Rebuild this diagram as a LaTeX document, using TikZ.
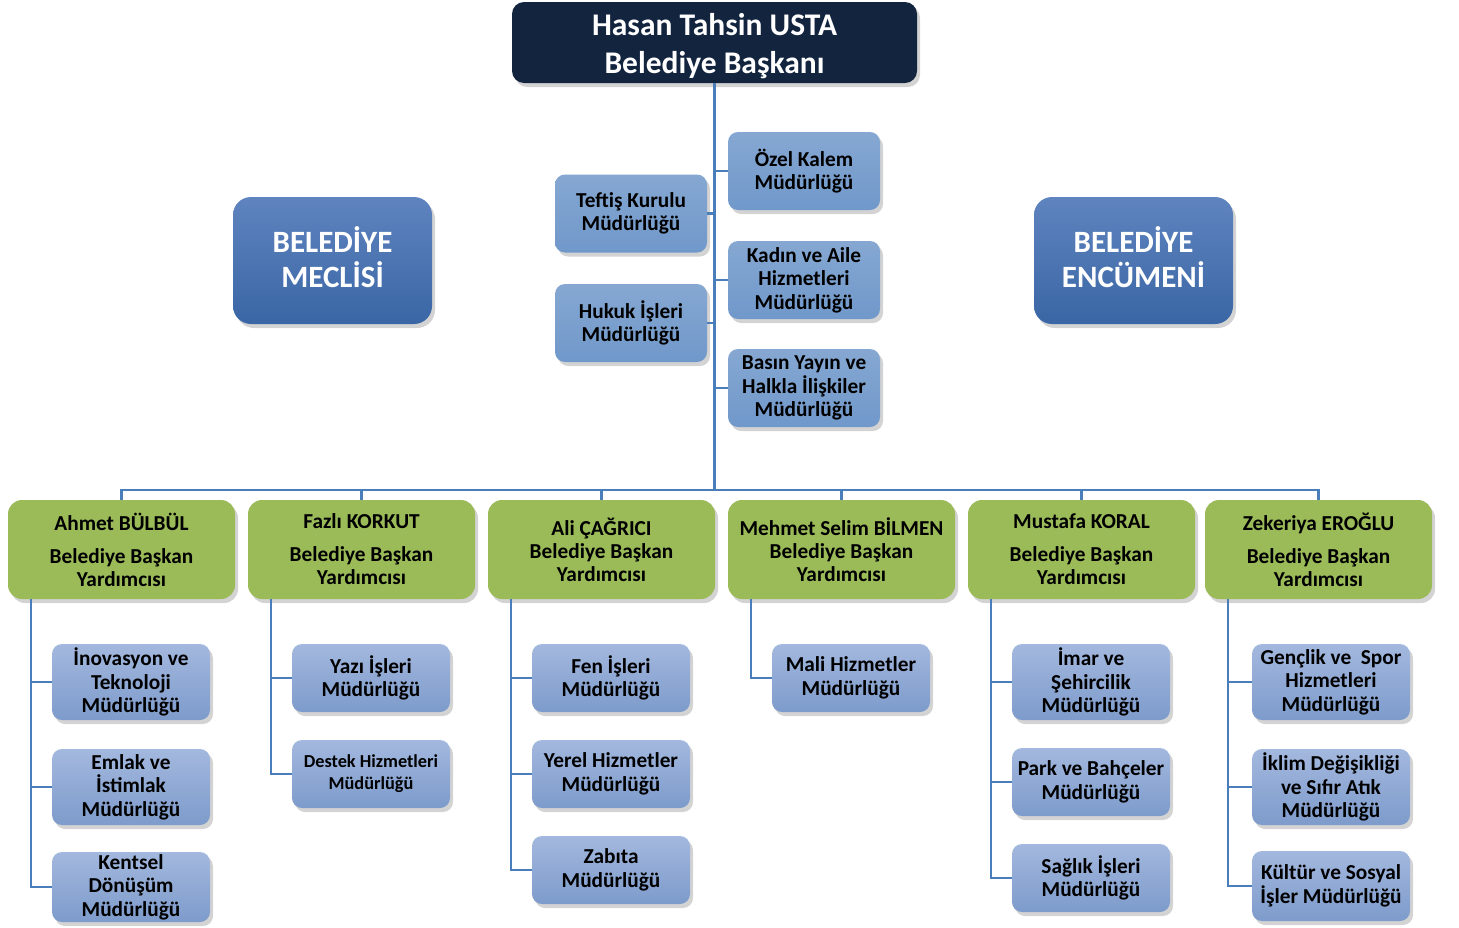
\documentclass[tikz,border=0pt]{standalone}
\usepackage{fontspec}
\setmainfont{Carlito}
\usetikzlibrary{shadows}
\definecolor{koyu}{HTML}{13243F}
\definecolor{yesil}{HTML}{9BBB59}
\definecolor{cizgi}{HTML}{4A7EBB}
\definecolor{orta}{HTML}{7098CA}
\definecolor{acikust}{HTML}{A3B8DE}
\definecolor{acikalt}{HTML}{7D9BCB}
\definecolor{meclisust}{HTML}{5F84BF}
\definecolor{meclisalt}{HTML}{3A66A5}
\tikzset{
    golge/.style = {drop shadow={opacity=0.35, shadow xshift=3pt, shadow yshift=-4pt}},
    mynodek/.style = {rectangle, rounded corners=12pt, fill=koyu, align=center, text=white, minimum width=405pt, minimum height=81pt, inner sep=0pt, golge, font=\bfseries\fontsize{31.5}{38}\selectfont},
    mynodem/.style = {rectangle, rounded corners=18pt, top color=meclisust, bottom color=meclisalt, align=center, text=white, minimum width=199pt, minimum height=127pt, inner sep=0pt, golge, font=\bfseries\fontsize{31}{35}\selectfont},
    mynodea/.style = {rectangle, rounded corners=10pt, top color=orta!85!white, bottom color=orta, align=center, text=black, minimum width=152pt, minimum height=78pt, inner sep=0pt, golge, font=\bfseries\fontsize{21.3}{23.5}\selectfont},
    mynodey/.style = {rectangle, rounded corners=14pt, fill=yesil, align=center, text=black, minimum width=227pt, minimum height=99pt, inner sep=0pt, golge, font=\bfseries\fontsize{21.3}{23}\selectfont},
    mynodeb/.style = {rectangle, rounded corners=10pt, top color=acikust, bottom color=acikalt, align=center, text=black, minimum width=158pt, minimum height=68pt, inner sep=0pt, golge, font=\bfseries\fontsize{21.3}{23.5}\selectfont},
    mynodebu/.style = {mynodeb, minimum height=76pt},
    edgeb/.style = {-, line width=2.5pt, cizgi}
}

\begin{document}
\begin{tikzpicture}[x=1pt, y=-1pt]
  \useasboundingbox (0,0) rectangle (1459,927);

  % baskan ve kurullar
  \node[mynodek] (baskan) at (714.5,42.5) {\rule{0pt}{30pt}Hasan Tahsin USTA\\Belediye Başkanı};
  \node[mynodem] (meclis) at (332.5,260.5) {BELEDİYE\\MECLİSİ\rule[-6pt]{0pt}{0pt}};
  \node[mynodem] (encumen) at (1133.5,260.5) {BELEDİYE\\ENCÜMENİ\rule[-6pt]{0pt}{0pt}};

  % baskana bagli mudurlukler
  \node[mynodea] (ozel) at (804,171) {Özel Kalem\\Müdürlüğü};
  \node[mynodea] (teftis) at (631,213.5) {Teftiş Kurulu\\Müdürlüğü};
  \node[mynodea] (kadin) at (804,280) {Kadın ve Aile\\Hizmetleri\\Müdürlüğü};
  \node[mynodea] (hukuk) at (631,323) {Hukuk İşleri\\Müdürlüğü};
  \node[mynodea] (basin) at (804,388) {Basın Yayın ve\\Halkla İlişkiler\\Müdürlüğü};

  % baskan yardimcilari
  \node[mynodey] (ahmet) at (121.5,549.5) {Ahmet BÜLBÜL\\[10pt]Belediye Başkan\\Yardımcısı};
  \node[mynodey] (fazli) at (361.5,549.5) {Fazlı KORKUT\\[10pt]Belediye Başkan\\Yardımcısı};
  \node[mynodey] (ali) at (601.5,549.5) {Ali ÇAĞRICI\\Belediye Başkan\\Yardımcısı};
  \node[mynodey] (mehmet) at (841.5,549.5) {Mehmet Selim BİLMEN\\Belediye Başkan\\Yardımcısı};
  \node[mynodey] (mustafa) at (1081.5,549.5) {Mustafa KORAL\\[10pt]Belediye Başkan\\Yardımcısı};
  \node[mynodey] (zekeriya) at (1318.5,549.5) {Zekeriya EROĞLU\\[10pt]Belediye Başkan\\Yardımcısı};

  % alt mudurlukler
  \node[mynodebu] (inovasyon) at (131,682) {İnovasyon ve\\Teknoloji\\Müdürlüğü};
  \node[mynodebu] (emlak) at (131,787) {Emlak ve\\İstimlak\\Müdürlüğü};
  \node[mynodeb, minimum height=70pt] (kentsel) at (131,887) {Kentsel\\Dönüşüm\\Müdürlüğü};

  \node[mynodeb] (yazi) at (371,678) {Yazı İşleri\\Müdürlüğü};
  \node[mynodeb, font=\bfseries\fontsize{18.3}{22}\selectfont] (destek) at (371,774) {Destek Hizmetleri\\Müdürlüğü};

  \node[mynodeb] (fen) at (611,678) {Fen İşleri\\Müdürlüğü};
  \node[mynodeb] (yerel) at (611,774) {Yerel Hizmetler\\Müdürlüğü};
  \node[mynodeb] (zabita) at (611,870) {Zabıta\\Müdürlüğü};

  \node[mynodeb] (mali) at (851,678) {Mali Hizmetler\\Müdürlüğü};

  \node[mynodebu] (imar) at (1091,682) {İmar ve\\Şehircilik\\Müdürlüğü};
  \node[mynodeb] (park) at (1091,782) {Park ve Bahçeler\\Müdürlüğü};
  \node[mynodeb] (saglik) at (1091,878) {Sağlık İşleri\\Müdürlüğü};

  \node[mynodebu] (genclik) at (1331,682) {Gençlik ve~~Spor\\Hizmetleri\\Müdürlüğü};
  \node[mynodebu] (iklim) at (1331,787) {İklim Değişikliği\\ve Sıfır Atık\\Müdürlüğü};
  \node[mynodeb, minimum height=70pt] (kultur) at (1331,886) {Kültür ve Sosyal\\İşler Müdürlüğü};

  % baglantilar
  \coordinate (bus) at (714.5,490);
  \draw[edgeb] (baskan.south) -- (bus);
  \foreach \m in {ozel,kadin,basin}
    \draw[edgeb] (\m.west) -- (\m.west -| bus);
  \foreach \m in {teftis,hukuk}
    \draw[edgeb] (\m.east) -- (\m.east -| bus);
  \draw[edgeb] (ahmet.north) -- (ahmet.north |- bus) -- (zekeriya.north |- bus) -- (zekeriya.north);
  \foreach \y in {fazli,ali,mehmet,mustafa}
    \draw[edgeb] (\y.north) -- (\y.north |- bus);

  \foreach \y/\m in {ahmet/inovasyon,ahmet/emlak,ahmet/kentsel,fazli/yazi,fazli/destek,
                     ali/fen,ali/yerel,ali/zabita,mehmet/mali,mustafa/imar,mustafa/park,
                     mustafa/saglik,zekeriya/genclik,zekeriya/iklim,zekeriya/kultur}
    \draw[edgeb] ([xshift=23pt]\y.south west) |- (\m.west);

\end{tikzpicture}
\end{document}
